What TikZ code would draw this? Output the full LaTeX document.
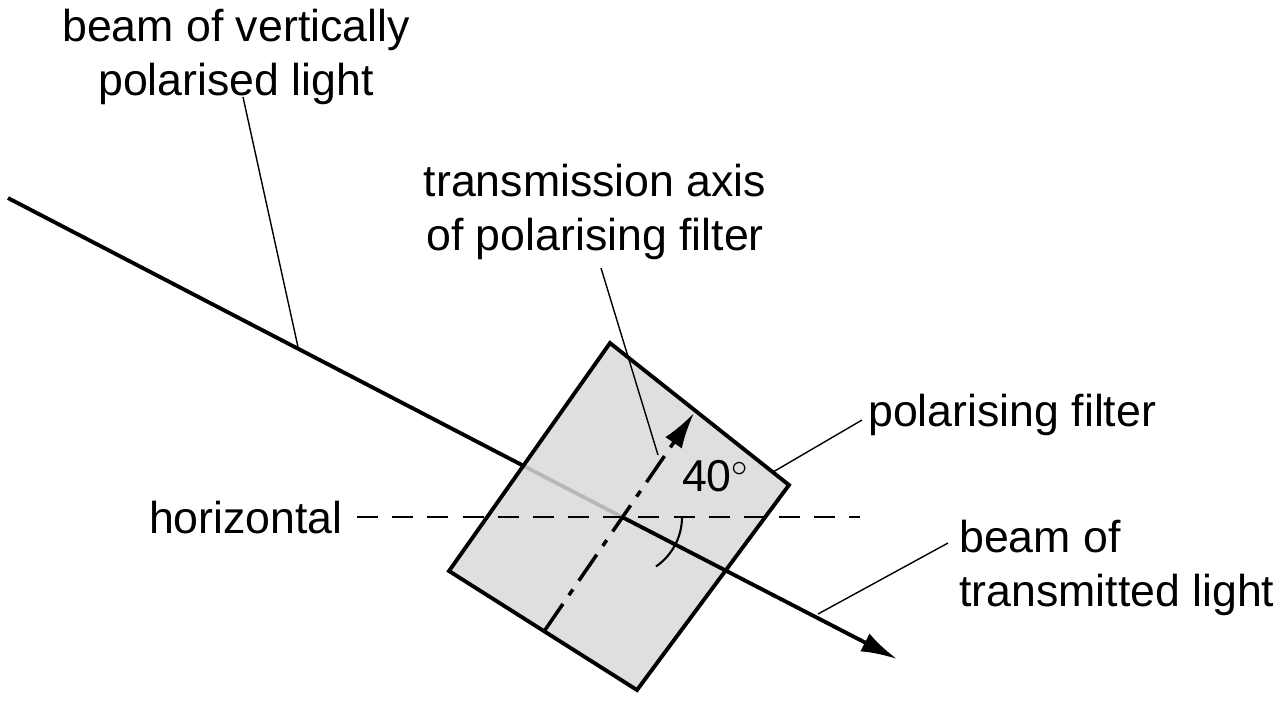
\documentclass[tikz,border=0pt]{standalone}
\usepackage{fontspec}
\setmainfont{Liberation Sans}
\usetikzlibrary{arrows.meta, positioning}
\tikzset{
    label text/.style={align=center, font=\fontsize{12.7}{15.6}\selectfont, inner sep=1pt},
    leader/.style={draw=black, line width=0.4pt},
    beam/.style={draw=black, line width=1.1pt},
    big tip/.style={-{Latex[length=0.36cm,width=0.2cm]}}
}
\begin{document}
\begin{tikzpicture}[x=0.01cm, y=-0.01cm]
    \useasboundingbox (0,0) rectangle (1288,702);

    % points
    \coordinate (B-start) at (8,198);
    \coordinate (B-end) at (897,659);
    \coordinate (C) at (622,517);
    \coordinate (A-start) at (545,630);
    \coordinate (A-end) at (694,413);

    % incoming beam
    \draw[beam] (B-start) -- (C);

    % the filter
    \draw[line width=1.1pt, fill=gray!30, fill opacity=0.85] (610,343) -- (789,485) -- (637,690) -- (449,571) -- cycle;

    % outgoing beam
    \draw[beam, big tip] (C) -- (B-end);

    % horizontal and transmission axis
    \draw[dashed, dash pattern=on 6pt off 4pt] (357,517) -- (860,517);
    \draw[line width=1pt, dash pattern=on 9pt off 3pt on 2pt off 3pt, big tip] (A-start) -- (A-end);
    \draw[line width=0.6pt] (682,517) arc[start angle=0, end angle=55.5, radius=60];

    % labels
    \node[label text] (angle) at (716,476) {40$^\circ$};
    \node[label text] (incoming) at (236,57) {beam of vertically\\polarised light};
    \node[label text] (axis) at (595,212) {transmission axis\\of polarising filter};
    \node[label text, anchor=west] (filter) at (864,415) {polarising filter};
    \node[label text, anchor=west, align=left] (transmitted) at (955,568) {beam of\\transmitted light};
    \node[label text, anchor=east] (horizontal) at (347,518) {horizontal};

    % leader lines
    \coordinate (L1) at (298,347);
    \coordinate (L2) at (658,455);
    \coordinate (L3) at (773,472);
    \coordinate (L4) at (818,614);
    \draw[leader] (243,97) -- (L1);
    \draw[leader] (601,268) -- (L2);
    \draw[leader] (862,420) -- (L3);
    \draw[leader] (948,543) -- (L4);
\end{tikzpicture}
\end{document}
